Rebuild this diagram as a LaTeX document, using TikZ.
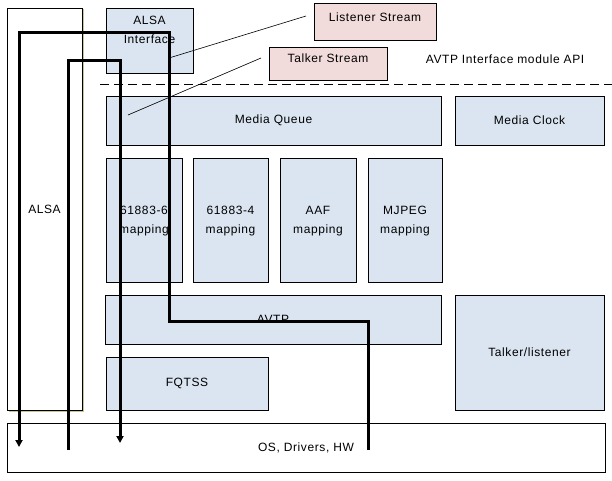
\documentclass[tikz,border=0pt]{standalone}
\usepackage{fontspec}
\setmainfont{Liberation Sans}[LetterSpace=5]
\usetikzlibrary{arrows.meta}
\definecolor{boxblue}{HTML}{DBE5F1}
\definecolor{boxpink}{HTML}{F2DCDB}
\begin{document}
\begin{tikzpicture}[x=1pt,y=-1pt,
  box/.style={draw=black,line width=0.8pt},
  bluebox/.style={box,fill=boxblue},
  pinkbox/.style={box,fill=boxpink},
  lbl/.style={font=\fontsize{12pt}{18.5pt}\selectfont,align=center,inner sep=0pt},
  flow/.style={line width=3pt},
  thin/.style={line width=0.6pt},
  tip/.style={-{Triangle[length=7pt,width=7pt]}}]
\useasboundingbox (0,0) rectangle (612,481);
% boxes
\fill[gray!50!olive!50] (8.5,9.5) rectangle (83.5,411.5);
\draw[box,fill=white] (7,8) rectangle (82,410);
\node[lbl] (alsa) at (44.5,209) {ALSA};
\draw[bluebox] (106,8) rectangle (193,73);
\node[lbl] (alsaif) at (149.5,30) {ALSA\\Interface};
\draw[pinkbox] (314,3) rectangle (436,40);
\node[lbl] (lst) at (375,17) {Listener Stream};
\draw[pinkbox] (269,47) rectangle (387,80);
\node[lbl] (tst) at (328,58) {Talker Stream};
\node[lbl] (api) at (505,59) {AVTP Interface module API};
\draw[line width=0.8pt,dash pattern=on 9pt off 5pt] (100,84) -- (612,84);
\draw[bluebox] (106,96) rectangle (441,145);
\node[lbl] (mq) at (273.5,120.5) {Media Queue};
\draw[bluebox] (455,96) rectangle (604,145);
\node[lbl] (mc) at (529.5,120.5) {Media Clock};
\draw[bluebox] (106,158) rectangle (182,282);
\node[lbl] (m6) at (144,221) {61883-6\\mapping};
\draw[bluebox] (193,158) rectangle (268,282);
\node[lbl] (m4) at (230.5,221) {61883-4\\mapping};
\draw[bluebox] (280,158) rectangle (356,282);
\node[lbl] (aaf) at (318,221) {AAF\\mapping};
\draw[bluebox] (368,158) rectangle (442,282);
\node[lbl] (mjpeg) at (405,221) {MJPEG\\mapping};
\draw[bluebox] (105,295) rectangle (441,344);
\node[lbl] (avtp) at (273,319.5) {AVTP};
\draw[bluebox] (455,295) rectangle (604,410);
\node[lbl] (tl) at (529.5,352.5) {Talker/listener};
\draw[bluebox] (106,357) rectangle (268,410);
\node[lbl] (fq) at (187,383.5) {FQTSS};
\draw[box] (7,423) rectangle (605,472);
\node[lbl] (os) at (306,447.5) {OS, Drivers, HW};
% flows
\coordinate (a0) at (368,450);
\coordinate (a1) at (368,321);
\coordinate (a2) at (169,321);
\coordinate (a3) at (169,33);
\coordinate (a4) at (19,33);
\coordinate (a5) at (19,447);
\draw[flow,tip] (a0) -- (a1) -- (a2) -- (a3) -- (a4) -- (a5);
\coordinate (b0) at (68,450);
\coordinate (b1) at (68,61);
\coordinate (b2) at (120,61);
\coordinate (b3) at (120,443);
\draw[flow,tip] (b0) -- (b1) -- (b2) -- (b3);
% pointer lines
\coordinate (p1) at (169,58);
\coordinate (p2) at (306,16);
\draw[thin] (p1) -- (p2);
\coordinate (q1) at (128,115);
\coordinate (q2) at (261,58);
\draw[thin] (q1) -- (q2);
\end{tikzpicture}
\end{document}
